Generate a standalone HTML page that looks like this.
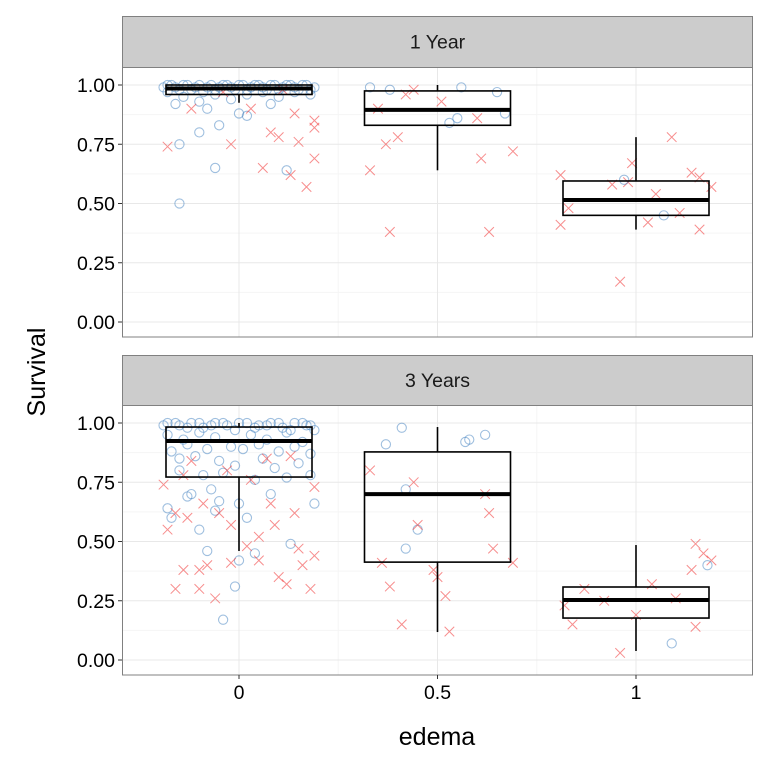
<!DOCTYPE html>
<html><head><meta charset="utf-8"><style>
body{margin:0;background:#fff}
svg{display:block;font-family:"Liberation Sans",Arial,sans-serif}
</style></head><body>
<svg id="c" width="768" height="768"></svg>
<script>
const categories=[0,0.5,1];
const catLabels=["0","0.5","1"];
const yTicks=[0,0.25,0.5,0.75,1];
const yTickLabels=["0.00","0.25","0.50","0.75","1.00"];
const facetLabels=["1 Year","3 Years"];
// box stats per facet: [lowWhisker, q1, median, q3, highWhisker]
const box1Year=[[0.925,0.96,0.985,1.0,1.0],[0.64,0.83,0.895,0.975,1.0],[0.39,0.45,0.515,0.595,0.78]];
const box3Years=[[0.46,0.772,0.924,0.983,1.0],[0.118,0.413,0.70,0.878,0.983],[0.038,0.177,0.253,0.308,0.485]];
// points: [edema + jitter, survival, type] type 0 = circle (blue), 1 = cross (red)
const pts1Year=[
[-0.19,0.99,0],[-0.17,1,0],[-0.15,0.98,0],[-0.13,1,0],[-0.11,0.99,0],[-0.09,0.97,0],[-0.07,1,0],[-0.05,0.99,0],[-0.03,1,0],[-0.01,0.98,0],[0.01,1,0],[0.03,0.99,0],[0.05,1,0],[0.07,0.98,0],[0.09,1,0],[0.11,0.99,0],[0.13,1,0],[0.15,0.98,0],[0.17,1,0],[0.19,0.99,0],
[-0.18,1,0],[-0.16,0.99,0],[-0.14,1,0],[-0.12,0.98,0],[-0.1,1,0],[-0.08,0.99,0],[-0.06,0.98,0],[-0.04,1,0],[-0.02,0.99,0],[0.0,1,0],[0.02,0.98,0],[0.04,1,0],[0.06,0.99,0],[0.08,1,0],[0.1,0.98,0],[0.12,1,0],[0.14,0.99,0],[0.16,1,0],[0.18,0.98,0],
[-0.18,0.97,0],[-0.14,0.95,0],[-0.1,0.93,0],[-0.06,0.96,0],[-0.02,0.94,0],[0.02,0.96,0],[0.06,0.97,0],[0.1,0.95,0],[0.14,0.97,0],[0.18,0.96,0],[-0.16,0.92,0],[-0.08,0.9,0],[0.0,0.88,0],[0.08,0.92,0],
[-0.15,0.5,0],[-0.06,0.65,0],[-0.15,0.75,0],[-0.1,0.8,0],[-0.05,0.83,0],[0.12,0.64,0],[0.02,0.87,0],
[-0.18,0.74,1],[-0.02,0.75,1],[0.08,0.8,1],[0.1,0.78,1],[0.17,0.57,1],[0.13,0.62,1],[0.06,0.65,1],[0.19,0.69,1],[0.15,0.76,1],[0.19,0.82,1],[0.14,0.88,1],[0.03,0.9,1],[0.19,0.85,1],[-0.12,0.9,1],[-0.04,0.97,1],[0.11,0.98,1],
[0.33,0.99,0],[0.38,0.98,0],[0.56,0.99,0],[0.53,0.84,0],[0.55,0.86,0],[0.65,0.97,0],[0.67,0.88,0],
[0.33,0.64,1],[0.38,0.38,1],[0.37,0.75,1],[0.4,0.78,1],[0.42,0.96,1],[0.51,0.93,1],[0.6,0.86,1],[0.61,0.69,1],[0.63,0.38,1],[0.69,0.72,1],[0.44,0.98,1],[0.35,0.9,1],
[0.81,0.62,1],[0.81,0.41,1],[0.83,0.48,1],[0.94,0.58,1],[0.96,0.17,1],[0.98,0.59,1],[0.99,0.67,1],[1.03,0.42,1],[1.05,0.54,1],[1.09,0.78,1],[1.11,0.46,1],[1.14,0.63,1],[1.16,0.61,1],[1.16,0.39,1],[1.19,0.57,1],[0.97,0.6,0],[1.07,0.45,0]
];
const pts3Years=[
[-0.19,0.99,0],[-0.16,1,0],[-0.13,0.98,0],[-0.1,1,0],[-0.07,0.99,0],[-0.04,1,0],[-0.01,0.97,0],[0.02,1,0],[0.05,0.99,0],[0.08,1,0],[0.11,0.98,0],[0.14,1,0],[0.17,0.99,0],[0.19,0.97,0],
[-0.18,1,0],[-0.15,0.99,0],[-0.12,1,0],[-0.09,0.98,0],[-0.06,1,0],[-0.03,0.99,0],[0.0,1,0],[0.04,0.98,0],[0.07,0.99,0],[0.1,1,0],[0.13,0.97,0],[0.16,1,0],[0.18,0.99,0],
[-0.18,0.95,0],[-0.14,0.93,0],[-0.1,0.96,0],[-0.06,0.94,0],[-0.02,0.9,0],[0.03,0.95,0],[0.07,0.93,0],[0.12,0.96,0],[0.16,0.92,0],[-0.17,0.88,0],[-0.11,0.86,0],[-0.05,0.84,0],[0.01,0.89,0],[0.06,0.85,0],[0.1,0.88,0],[0.15,0.83,0],
[-0.13,0.91,0],[-0.08,0.89,0],[0.05,0.91,0],[0.14,0.9,0],[-0.15,0.85,0],[-0.01,0.82,0],[0.09,0.81,0],[0.18,0.87,0],
[-0.15,0.8,0],[-0.09,0.78,0],[-0.04,0.79,0],[0.04,0.76,0],[0.12,0.77,0],[0.18,0.78,0],[-0.18,0.64,0],[-0.17,0.6,0],[-0.13,0.69,0],[-0.12,0.7,0],[-0.07,0.72,0],[-0.05,0.67,0],[0.0,0.66,0],[0.02,0.6,0],[0.08,0.7,0],[0.19,0.66,0],[0.0,0.42,0],[0.04,0.45,0],[0.13,0.49,0],[-0.08,0.46,0],[-0.04,0.17,0],[-0.01,0.31,0],[-0.1,0.55,0],[-0.06,0.63,0],
[-0.19,0.74,1],[-0.14,0.78,1],[-0.16,0.62,1],[-0.18,0.55,1],[-0.13,0.6,1],[-0.09,0.66,1],[-0.05,0.62,1],[-0.02,0.57,1],[-0.08,0.4,1],[-0.1,0.38,1],[-0.14,0.38,1],[-0.16,0.3,1],[-0.1,0.3,1],[-0.06,0.26,1],[-0.02,0.41,1],[0.02,0.48,1],[0.05,0.52,1],[0.09,0.57,1],[0.05,0.42,1],[0.1,0.35,1],[0.15,0.47,1],[0.19,0.44,1],[0.18,0.3,1],[0.12,0.32,1],[0.16,0.4,1],[0.08,0.66,1],[0.14,0.62,1],[0.19,0.73,1],[0.03,0.76,1],[-0.03,0.8,1],[0.07,0.85,1],[0.13,0.86,1],[-0.12,0.84,1],
[0.41,0.98,0],[0.58,0.93,0],[0.57,0.92,0],[0.62,0.95,0],[0.37,0.91,0],[0.42,0.72,0],[0.42,0.47,0],[0.45,0.55,0],
[0.33,0.8,1],[0.36,0.41,1],[0.38,0.31,1],[0.41,0.15,1],[0.44,0.75,1],[0.45,0.57,1],[0.49,0.38,1],[0.5,0.35,1],[0.52,0.27,1],[0.53,0.12,1],[0.62,0.7,1],[0.63,0.62,1],[0.64,0.47,1],[0.69,0.41,1],
[0.82,0.23,1],[0.84,0.15,1],[0.87,0.3,1],[0.92,0.25,1],[0.96,0.03,1],[1.0,0.19,1],[1.04,0.32,1],[1.15,0.49,1],[1.14,0.38,1],[1.17,0.45,1],[1.15,0.14,1],[1.1,0.26,1],[1.19,0.42,1],[1.09,0.07,0],[1.18,0.4,0]
];

const NS="http://www.w3.org/2000/svg";
const svg=document.getElementById('c');
const X0=122,X1=753;
const xs=v=>239+(v-0)*(636-239)/1;
function mk(tag,attrs,parent){const e=document.createElementNS(NS,tag);for(const k in attrs)e.setAttribute(k,attrs[k]);(parent||svg).appendChild(e);return e;}

const facets=[{top:16,stripB:67,bot:337,y1:85,y0:322,box:box1Year,pts:pts1Year},
              {top:355,stripB:405,bot:675,y1:423,y0:660,box:box3Years,pts:pts3Years}];
facets.forEach((f,fi)=>{
  const ys=v=>f.y0+(f.y1-f.y0)*v;
  const g=mk('g',{});
  
  
  mk('rect',{x:X0,y:f.stripB,width:X1-X0,height:f.bot-f.stripB,fill:'#fff'},g);
  for(let i=0;i<yTicks.length-1;i++){const v=(yTicks[i]+yTicks[i+1])/2;mk('line',{x1:X0,x2:X1,y1:ys(v),y2:ys(v),stroke:'#f5f5f5','stroke-width':1},g);}
  for(let i=0;i<categories.length-1;i++){const v=(categories[i]+categories[i+1])/2;mk('line',{x1:xs(v),x2:xs(v),y1:f.stripB,y2:f.bot,stroke:'#f5f5f5','stroke-width':1},g);}
  yTicks.forEach((v,i)=>{mk('line',{x1:X0,x2:X1,y1:ys(v),y2:ys(v),stroke:'#e8e8e8','stroke-width':1},g);
    mk('line',{x1:X0-4,x2:X0,y1:ys(v),y2:ys(v),stroke:'#333','stroke-width':1},g);
    const t=mk('text',{x:X0-7,y:ys(v)+7,'text-anchor':'end','font-size':19.5,fill:'#000'},g);t.textContent=yTickLabels[i];
    
    });
  categories.forEach(c=>mk('line',{x1:xs(c),x2:xs(c),y1:f.stripB,y2:f.bot,stroke:'#e8e8e8','stroke-width':1},g));
  f.pts.forEach(p=>{const cx=xs(p[0]),cy=ys(p[1]);
    if(p[2]===0){const c=mk('circle',{cx:cx,cy:cy,r:4.6,fill:'none',stroke:'#3f7fbf','stroke-opacity':0.5,'stroke-width':1.1},g);
      
      }
    else{const s=4.8;const p2=mk('path',{d:`M${cx-s},${cy-s}L${cx+s},${cy+s}M${cx-s},${cy+s}L${cx+s},${cy-s}`,stroke:'#f03030','stroke-opacity':0.55,'stroke-width':1,fill:'none'},g);
      
      }
  });
  f.box.forEach((b,i)=>{const cx=xs(categories[i]),hw=73;
    const bg=mk('g',{},g);
    
    
    mk('line',{x1:cx,x2:cx,y1:ys(b[0]),y2:ys(b[1]),stroke:'#000','stroke-width':1.6},bg);
    mk('line',{x1:cx,x2:cx,y1:ys(b[3]),y2:ys(b[4]),stroke:'#000','stroke-width':1.6},bg);
    mk('rect',{x:cx-hw,y:ys(b[3]),width:2*hw,height:ys(b[1])-ys(b[3]),fill:'none',stroke:'#000','stroke-width':1.6},bg);
    mk('line',{x1:cx-hw,x2:cx+hw,y1:ys(b[2]),y2:ys(b[2]),stroke:'#000','stroke-width':4},bg);
  });
  mk('rect',{x:X0+0.5,y:f.stripB,width:X1-X0-1,height:f.bot-f.stripB,fill:'none',stroke:'#808080','stroke-width':1},g);
  const st=mk('rect',{x:X0+0.5,y:f.top+0.5,width:X1-X0-1,height:f.stripB-f.top,fill:'#cccccc',stroke:'#808080','stroke-width':1},g);
  
  
  const tl=mk('text',{x:(X0+X1)/2,y:(f.top+f.stripB)/2+7,'text-anchor':'middle','font-size':19.5,fill:'#1a1a1a'},g);
  tl.textContent=facetLabels[fi];
  
  
});
categories.forEach((c,i)=>{mk('line',{x1:xs(c),x2:xs(c),y1:675,y2:679,stroke:'#333','stroke-width':1});
  const t=mk('text',{x:xs(c),y:699,'text-anchor':'middle','font-size':19.5,fill:'#000'});t.textContent=catLabels[i];
  
  });
const xt=mk('text',{x:437,y:745,'text-anchor':'middle','font-size':25,fill:'#000'});xt.textContent='edema';


const yt=mk('text',{x:45,y:372,'text-anchor':'middle','font-size':25,fill:'#000',transform:'rotate(-90 45 372)'});yt.textContent='Survival';


</script>
</body></html>
